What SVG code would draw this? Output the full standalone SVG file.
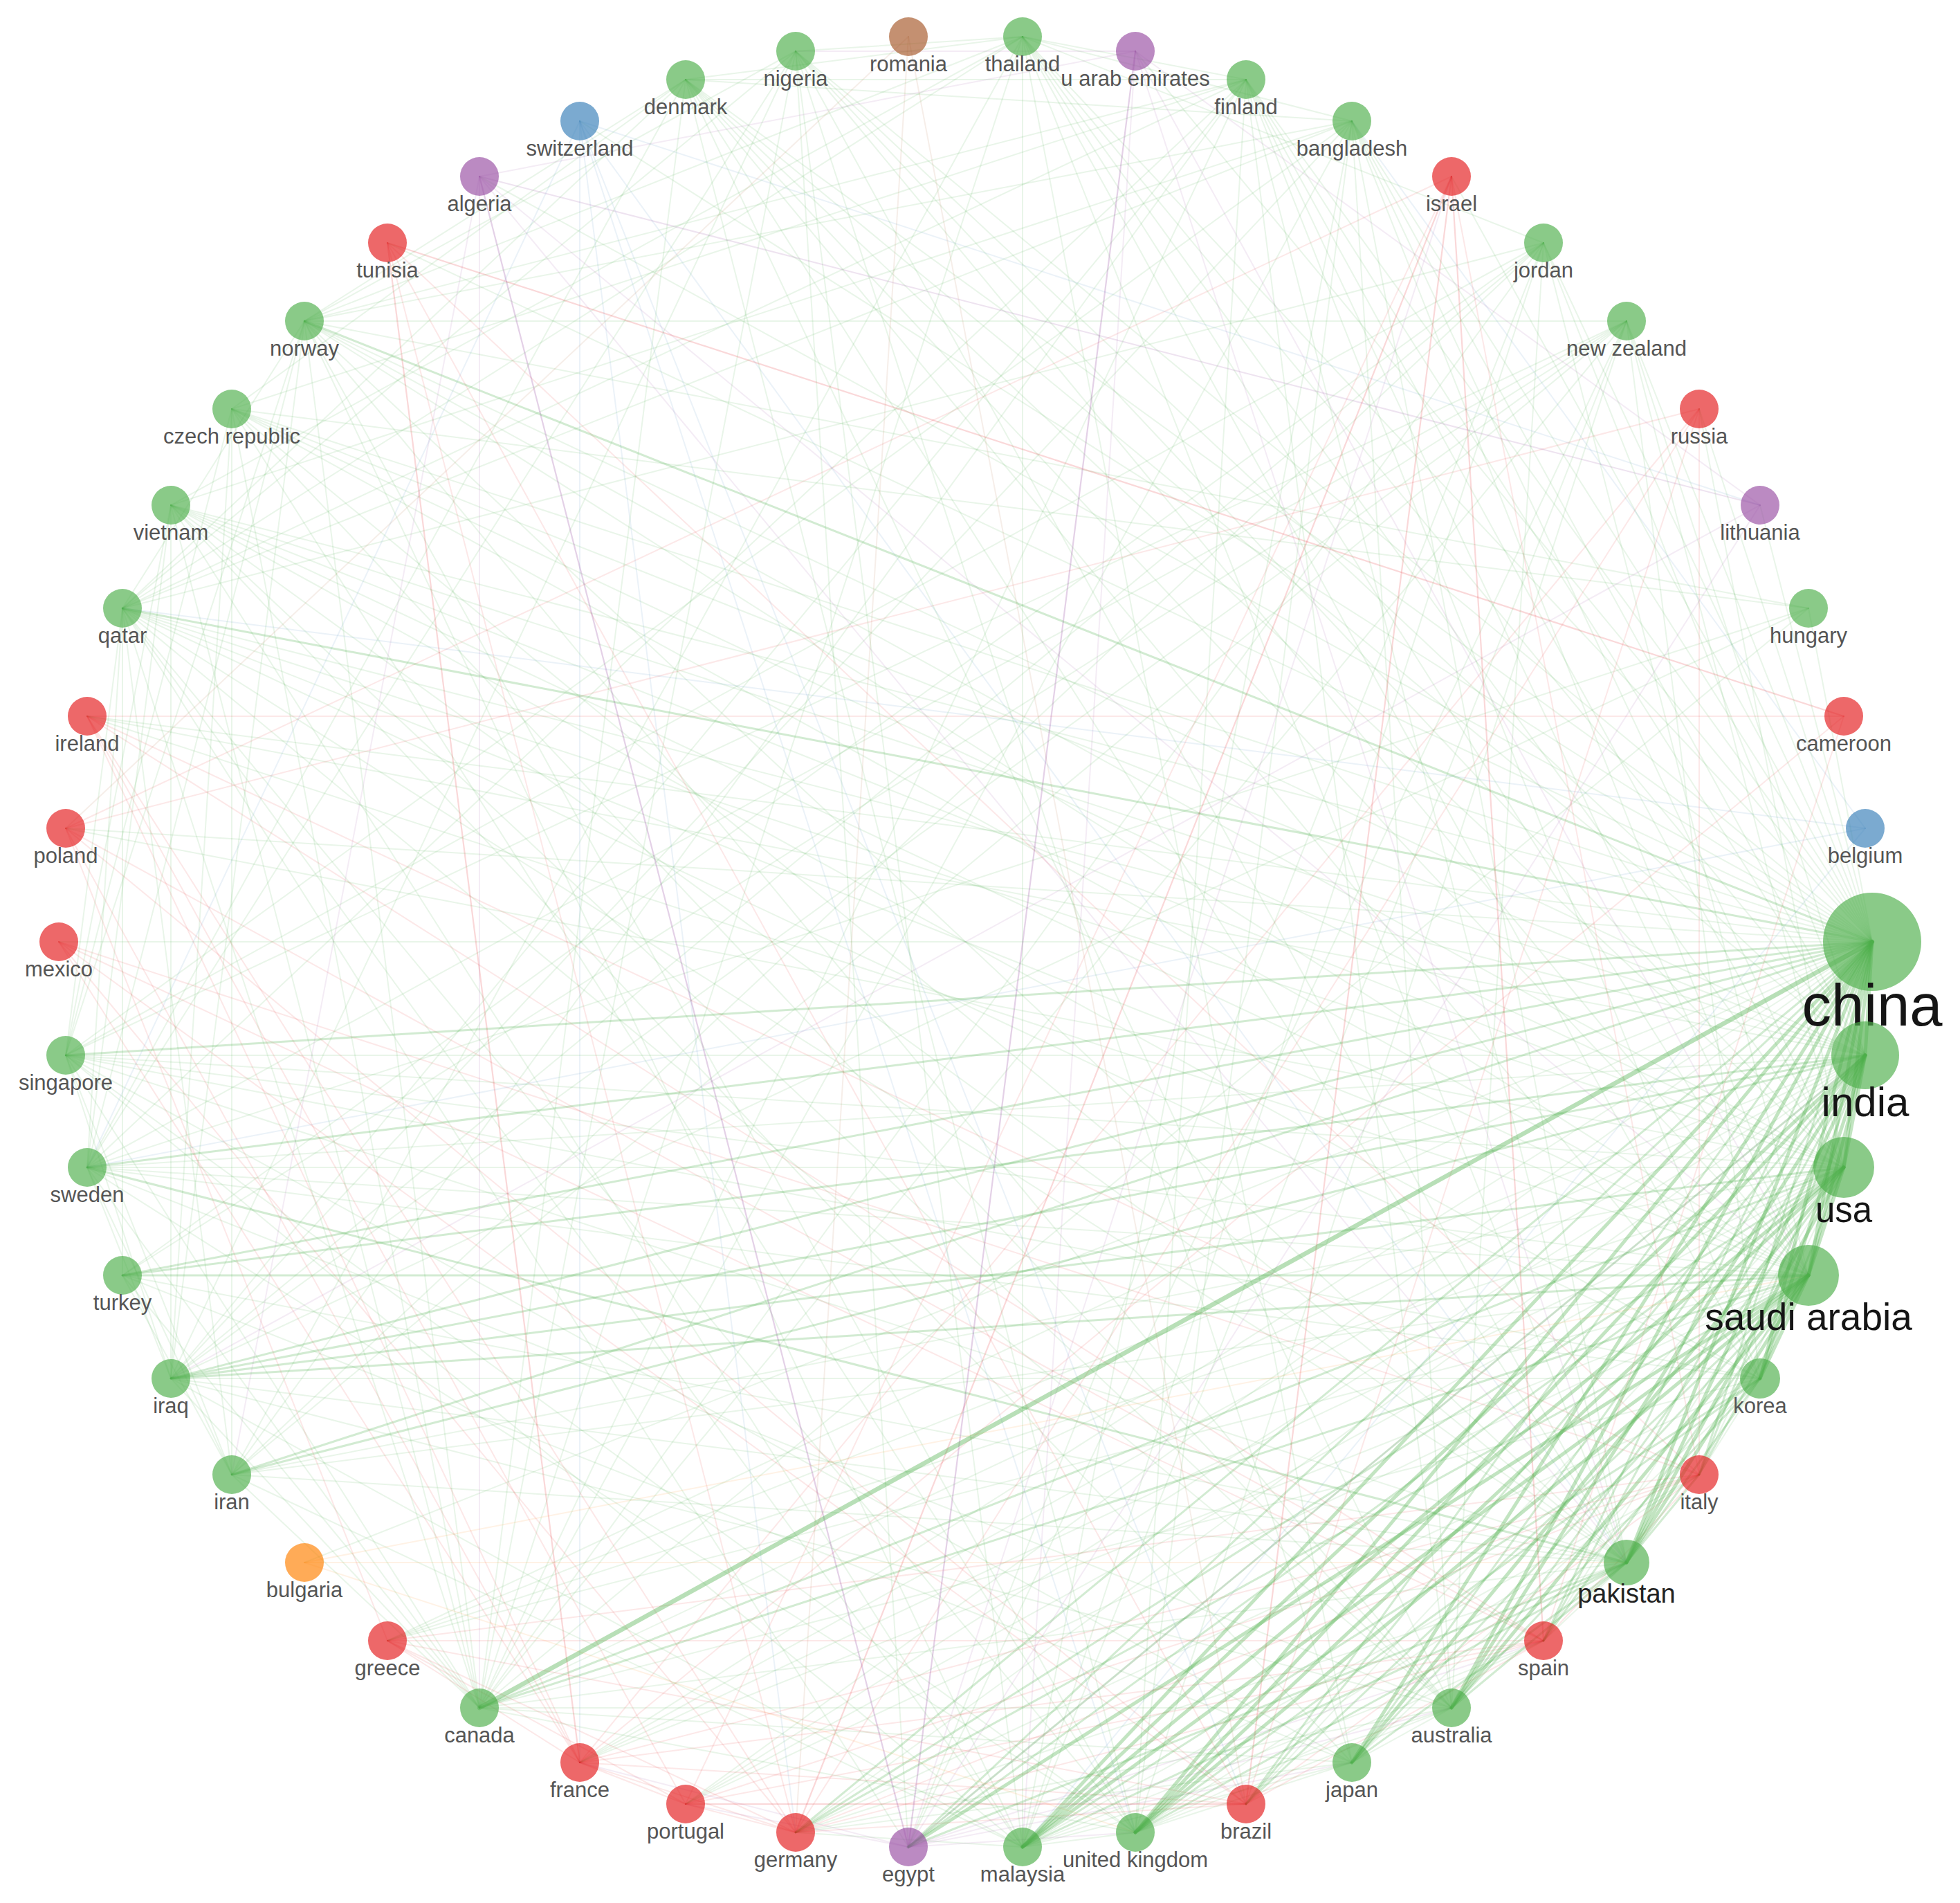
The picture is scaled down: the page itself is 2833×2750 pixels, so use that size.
<svg xmlns="http://www.w3.org/2000/svg" width="2833" height="2750" viewBox="0 0 2833 2750">
<style>
.e path{fill:none;stroke-linecap:round}
.g1 path{stroke:#4daf4a;stroke-width:2;stroke-opacity:.12}
.g2 path{stroke:#4daf4a;stroke-width:3;stroke-opacity:.25}
.g3 path{stroke:#4daf4a;stroke-width:5;stroke-opacity:.34}
.g4 path{stroke:#4daf4a;stroke-width:6.5;stroke-opacity:.4}
.r1 path{stroke:#e41a1c;stroke-width:2;stroke-opacity:.1}
.r2 path{stroke:#e41a1c;stroke-width:2.2;stroke-opacity:.17}
.p1 path{stroke:#984ea3;stroke-width:2;stroke-opacity:.11}
.p2 path{stroke:#984ea3;stroke-width:2.2;stroke-opacity:.26}
.p3 path{stroke:#984ea3;stroke-width:2;stroke-opacity:.16}
.b1 path{stroke:#377eb8;stroke-width:2;stroke-opacity:.1}
.o1 path{stroke:#ff7f00;stroke-width:2;stroke-opacity:.1}
.n1 path{stroke:#a65628;stroke-width:2;stroke-opacity:.1}
.node circle{fill-opacity:.66}
.gr circle{fill:#4daf4a}.rd circle{fill:#e41a1c}.pu circle{fill:#984ea3}.bl circle{fill:#377eb8}.or circle{fill:#ff7f00}.br circle{fill:#a65628}
.node text{font-family:"Liberation Sans",Arial,sans-serif;font-size:31px;fill:#555;text-anchor:middle}
.node text.big{fill:#151515}
</style>
<rect width="2833" height="2750" fill="#fff"/>
<g id="connectors" class="e">
<g class="g1">
<path d="M2706 1361L2614 879"/><path d="M2706 1361L2544 730"/><path d="M2706 1361L2456 591"/><path d="M2706 1361L2351 464"/><path d="M2706 1361L2231 351"/><path d="M2706 1361L2098 255"/><path d="M2706 1361L1801 115"/><path d="M2706 1361L1641 74"/><path d="M2706 1361L1478 53"/><path d="M2706 1361L1150 74"/><path d="M2706 1361L991 115"/><path d="M2706 1361L838 175"/><path d="M2706 1361L693 255"/><path d="M2706 1361L560 351"/><path d="M2706 1361L335 591"/><path d="M2706 1361L247 730"/><path d="M2706 1361L126 1035"/><path d="M2706 1361L95 1197"/><path d="M2706 1361L85 1361"/><path d="M2706 1361L560 2371"/><path d="M2706 1361L838 2547"/><path d="M2706 1361L991 2607"/><path d="M2706 1361L440 2258"/><path d="M2706 1361L1954 175"/>
<path d="M2696 1525L2351 464"/><path d="M2696 1525L2231 351"/><path d="M2696 1525L1954 175"/><path d="M2696 1525L1801 115"/><path d="M2696 1525L1478 53"/><path d="M2696 1525L1150 74"/><path d="M2696 1525L991 115"/><path d="M2696 1525L440 464"/><path d="M2696 1525L335 591"/><path d="M2696 1525L247 730"/><path d="M2696 1525L177 879"/><path d="M2696 1525L126 1035"/><path d="M2696 1525L95 1525"/><path d="M2696 1525L126 1687"/><path d="M2696 1525L560 2371"/><path d="M2696 1525L693 2468"/><path d="M2696 1525L838 2547"/><path d="M2696 1525L991 2607"/><path d="M2696 1525L1150 2648"/>
<path d="M2665 1687L2456 591"/><path d="M2665 1687L2351 464"/><path d="M2665 1687L1954 175"/><path d="M2665 1687L1801 115"/><path d="M2665 1687L1478 53"/><path d="M2665 1687L1150 74"/><path d="M2665 1687L991 115"/><path d="M2665 1687L440 464"/><path d="M2665 1687L335 591"/><path d="M2665 1687L247 730"/><path d="M2665 1687L177 879"/><path d="M2665 1687L95 1197"/><path d="M2665 1687L126 1687"/><path d="M2665 1687L95 1525"/><path d="M2665 1687L335 2131"/><path d="M2665 1687L560 2371"/><path d="M2665 1687L838 2547"/><path d="M2665 1687L991 2607"/><path d="M2665 1687L1801 2607"/><path d="M2665 1687L2456 2131"/><path d="M2665 1687L2231 2371"/>
<path d="M2614 1843L2231 351"/><path d="M2614 1843L1954 175"/><path d="M2614 1843L1801 115"/><path d="M2614 1843L1478 53"/><path d="M2614 1843L1150 74"/><path d="M2614 1843L991 115"/><path d="M2614 1843L440 464"/><path d="M2614 1843L335 591"/><path d="M2614 1843L247 730"/><path d="M2614 1843L177 879"/><path d="M2614 1843L126 1035"/><path d="M2614 1843L95 1525"/><path d="M2614 1843L126 1687"/><path d="M2614 1843L335 2131"/><path d="M2614 1843L838 2547"/><path d="M2614 1843L991 2607"/><path d="M2614 1843L560 2371"/>
<path d="M2351 2258L1954 175"/><path d="M2351 2258L1478 53"/><path d="M2351 2258L1150 74"/><path d="M2351 2258L991 115"/><path d="M2351 2258L1801 115"/><path d="M2351 2258L440 464"/><path d="M2351 2258L335 591"/><path d="M2351 2258L247 730"/><path d="M2351 2258L177 879"/><path d="M2351 2258L95 1525"/><path d="M2351 2258L247 1992"/><path d="M2351 2258L335 2131"/><path d="M2351 2258L177 1843"/><path d="M2351 2258L693 2468"/><path d="M2351 2258L1150 2648"/><path d="M2351 2258L2231 2371"/>
<path d="M2544 1992L1478 53"/><path d="M2544 1992L247 730"/><path d="M2544 1992L95 1525"/><path d="M2544 1992L247 1992"/><path d="M2544 1992L693 2468"/><path d="M2544 1992L1150 2648"/><path d="M2544 1992L1954 2547"/><path d="M2544 1992L2456 2131"/><path d="M2544 1992L2351 464"/><path d="M2544 1992L1801 115"/><path d="M2544 1992L991 115"/><path d="M2544 1992L177 879"/><path d="M2544 1992L126 1687"/>
<path d="M1478 2669L1954 175"/><path d="M1478 2669L1150 74"/><path d="M1478 2669L440 464"/><path d="M1478 2669L247 730"/><path d="M1478 2669L177 879"/><path d="M1478 2669L95 1525"/><path d="M1478 2669L247 1992"/><path d="M1478 2669L335 2131"/><path d="M1478 2669L1150 2648"/><path d="M1478 2669L1641 2648"/><path d="M1478 2669L1954 2547"/><path d="M1478 2669L2098 2468"/><path d="M1478 2669L2231 2371"/><path d="M1478 2669L2456 2131"/><path d="M1478 2669L2231 351"/><path d="M1478 2669L2351 464"/>
<path d="M1641 2648L1954 175"/><path d="M1641 2648L991 115"/><path d="M1641 2648L440 464"/><path d="M1641 2648L335 591"/><path d="M1641 2648L177 879"/><path d="M1641 2648L95 1525"/><path d="M1641 2648L126 1687"/><path d="M1641 2648L693 2468"/><path d="M1641 2648L1954 2547"/><path d="M1641 2648L2098 2468"/><path d="M1641 2648L2231 2371"/><path d="M1641 2648L2456 2131"/><path d="M1641 2648L1801 115"/><path d="M1641 2648L2351 464"/>
<path d="M2098 2468L1954 175"/><path d="M2098 2468L1801 115"/><path d="M2098 2468L991 115"/><path d="M2098 2468L440 464"/><path d="M2098 2468L335 591"/><path d="M2098 2468L247 730"/><path d="M2098 2468L177 879"/><path d="M2098 2468L126 1687"/><path d="M2098 2468L247 1992"/><path d="M2098 2468L693 2468"/><path d="M2098 2468L1150 2648"/><path d="M2098 2468L1954 2547"/><path d="M2098 2468L2231 351"/>
<path d="M1954 2547L1478 53"/><path d="M1954 2547L247 730"/><path d="M1954 2547L95 1525"/><path d="M1954 2547L693 2468"/><path d="M1954 2547L1150 2648"/><path d="M1954 2547L1150 74"/><path d="M1954 2547L177 1843"/>
<path d="M440 464L177 879"/><path d="M440 464L95 1525"/><path d="M440 464L126 1687"/><path d="M440 464L247 1992"/><path d="M440 464L693 2468"/><path d="M440 464L2351 464"/>
<path d="M335 591L247 1992"/><path d="M335 591L335 2131"/><path d="M335 591L95 1525"/><path d="M335 591L693 2468"/>
<path d="M247 730L247 1992"/><path d="M247 730L95 1525"/><path d="M247 730L126 1687"/><path d="M247 730L693 2468"/>
<path d="M177 879L95 1525"/><path d="M177 879L126 1687"/><path d="M177 879L177 1843"/><path d="M177 879L335 2131"/><path d="M177 879L693 2468"/><path d="M177 879L1313 2669"/>
<path d="M95 1525L247 1992"/><path d="M95 1525L335 2131"/><path d="M95 1525L693 2468"/>
<path d="M126 1687L247 1992"/><path d="M126 1687L335 2131"/><path d="M126 1687L693 2468"/>
<path d="M177 1843L335 2131"/><path d="M177 1843L693 2468"/><path d="M247 1992L693 2468"/><path d="M335 2131L693 2468"/>
<path d="M2351 464L95 1525"/><path d="M2351 464L126 1687"/><path d="M2351 464L247 1992"/><path d="M2351 464L335 2131"/><path d="M2351 464L693 2468"/><path d="M2351 464L1313 2669"/><path d="M2351 464L177 1843"/>
<path d="M2231 351L1478 53"/><path d="M2231 351L177 879"/><path d="M2231 351L95 1525"/><path d="M2231 351L177 1843"/><path d="M2231 351L247 1992"/><path d="M2231 351L335 2131"/><path d="M2231 351L693 2468"/><path d="M2231 351L1313 2669"/>
<path d="M1954 175L1478 53"/><path d="M1954 175L991 115"/><path d="M1954 175L440 464"/><path d="M1954 175L247 730"/><path d="M1954 175L177 879"/><path d="M1954 175L95 1525"/><path d="M1954 175L247 1992"/><path d="M1954 175L693 2468"/>
<path d="M1801 115L1478 53"/><path d="M1801 115L991 115"/><path d="M1801 115L440 464"/><path d="M1801 115L335 591"/><path d="M1801 115L177 879"/><path d="M1801 115L126 1687"/><path d="M1801 115L247 1992"/><path d="M1801 115L335 2131"/><path d="M1801 115L693 2468"/>
<path d="M1478 53L1150 74"/><path d="M1478 53L991 115"/><path d="M1478 53L440 464"/><path d="M1478 53L247 730"/><path d="M1478 53L177 879"/><path d="M1478 53L335 2131"/><path d="M1478 53L693 2468"/><path d="M1478 53L1478 2669"/>
<path d="M1150 74L440 464"/><path d="M1150 74L177 879"/><path d="M1150 74L126 1687"/><path d="M1150 74L247 1992"/><path d="M1150 74L693 2468"/><path d="M1150 74L1313 2669"/>
<path d="M991 115L440 464"/><path d="M991 115L335 591"/><path d="M991 115L177 879"/><path d="M991 115L126 1687"/><path d="M991 115L693 2468"/>
<path d="M2614 879L440 464"/><path d="M2614 879L335 591"/><path d="M2614 879L126 1687"/><path d="M2614 879L693 2468"/><path d="M2614 879L247 1992"/>
</g>
<g class="r1">
<path d="M2665 1035L838 2547"/><path d="M2665 1035L126 1035"/><path d="M2665 1035L2231 2371"/>
<path d="M2456 591L838 2547"/><path d="M2456 591L1801 2607"/><path d="M2456 591L1150 2648"/><path d="M2456 591L95 1197"/><path d="M2456 591L2456 2131"/>
<path d="M2098 255L2456 2131"/><path d="M2098 255L991 2607"/><path d="M2098 255L95 1197"/>
<path d="M560 351L1150 2648"/><path d="M560 351L2456 2131"/><path d="M560 351L1801 2607"/>
<path d="M126 1035L1150 2648"/><path d="M126 1035L838 2547"/><path d="M126 1035L991 2607"/><path d="M126 1035L2231 2371"/><path d="M126 1035L2456 2131"/>
<path d="M95 1197L560 2371"/><path d="M95 1197L2231 2371"/><path d="M95 1197L1801 2607"/><path d="M95 1197L838 2547"/>
<path d="M85 1361L2231 2371"/><path d="M85 1361L838 2547"/><path d="M85 1361L1801 2607"/><path d="M85 1361L1150 2648"/><path d="M85 1361L2456 2131"/>
<path d="M560 2371L838 2547"/><path d="M560 2371L991 2607"/><path d="M560 2371L1150 2648"/><path d="M560 2371L1801 2607"/><path d="M560 2371L2231 2371"/><path d="M560 2371L2456 2131"/>
<path d="M838 2547L991 2607"/><path d="M838 2547L1150 2648"/><path d="M838 2547L1801 2607"/><path d="M838 2547L2231 2371"/><path d="M838 2547L2456 2131"/>
<path d="M991 2607L1150 2648"/><path d="M991 2607L2231 2371"/><path d="M991 2607L2456 2131"/>
<path d="M1150 2648L1801 2607"/><path d="M1150 2648L2231 2371"/><path d="M1150 2648L2456 2131"/>
<path d="M1801 2607L2231 2371"/><path d="M1801 2607L2456 2131"/><path d="M2231 2371L2456 2131"/>
</g>
<g class="p1">
<path d="M1641 74L693 255"/><path d="M1641 74L1150 74"/><path d="M1641 74L1478 2669"/><path d="M1641 74L2614 1843"/><path d="M1641 74L2351 2258"/>
<path d="M693 255L335 2131"/><path d="M693 255L693 2468"/><path d="M693 255L2351 2258"/><path d="M693 255L2614 1843"/>
<path d="M2544 730L1641 74"/><path d="M2544 730L1313 2669"/><path d="M2544 730L247 1992"/>
<path d="M1313 2669L2696 1525"/><path d="M1313 2669L2098 2468"/><path d="M1313 2669L2231 2371"/><path d="M1313 2669L1641 2648"/><path d="M1313 2669L1954 2547"/><path d="M1313 2669L991 2607"/><path d="M1313 2669L838 2547"/><path d="M1313 2669L2098 255"/>
</g>
<g class="b1">
<path d="M2696 1197L1954 175"/><path d="M2696 1197L126 1687"/><path d="M2696 1197L177 879"/><path d="M2696 1197L1478 2669"/>
<path d="M838 175L1150 2648"/><path d="M838 175L1801 2607"/><path d="M838 175L838 2547"/><path d="M838 175L1641 2648"/><path d="M838 175L126 1687"/><path d="M838 175L2351 2258"/><path d="M838 175L2544 730"/>
</g>
<g class="o1"><path d="M440 2258L1641 2648"/><path d="M440 2258L2351 2258"/><path d="M440 2258L2614 1843"/></g>
<g class="n1"><path d="M1313 53L1150 2648"/><path d="M1313 53L1801 2607"/><path d="M1313 53L95 1197"/></g>
<g class="r2">
<path d="M560 351L838 2547"/><path d="M560 351L2665 1035"/><path d="M991 2607L1801 2607"/><path d="M2098 255L1150 2648"/><path d="M2098 255L1801 2607"/><path d="M2098 255L2231 2371"/>
</g>
<g class="p2">
<path d="M1641 74L1313 2669"/><path d="M693 255L1313 2669"/>
</g>
<g class="p3"><path d="M693 255L2544 730"/></g>
<g class="g2">
<path d="M2706 1361L440 464"/><path d="M2706 1361L95 1525"/><path d="M2706 1361L126 1687"/><path d="M2706 1361L247 1992"/><path d="M2706 1361L335 2131"/><path d="M2706 1361L177 1843"/><path d="M2706 1361L177 879"/><path d="M2706 1361L1313 2669"/><path d="M2706 1361L2231 2371"/><path d="M2706 1361L2456 2131"/><path d="M2706 1361L1801 2607"/><path d="M2706 1361L1150 2648"/>
<path d="M126 1687L2351 2258"/><path d="M247 1992L2696 1525"/><path d="M247 1992L2665 1687"/><path d="M247 1992L2614 1843"/><path d="M335 2131L2696 1525"/><path d="M177 1843L2614 1843"/><path d="M177 1843L2696 1525"/>
<path d="M693 2468L2614 1843"/><path d="M693 2468L2665 1687"/><path d="M1641 2648L2351 2258"/><path d="M1478 2669L2351 2258"/><path d="M1478 2669L2544 1992"/><path d="M1954 2547L2696 1525"/><path d="M1954 2547L2614 1843"/><path d="M2098 2468L2665 1687"/><path d="M2544 1992L2665 1687"/><path d="M2544 1992L2351 2258"/><path d="M2456 2131L2614 1843"/><path d="M1313 2669L2696 1525"/><path d="M2231 2371L2614 1843"/><path d="M1801 2607L2614 1843"/><path d="M1150 2648L2614 1843"/><path d="M1150 2648L2665 1687"/><path d="M1313 2669L2665 1687"/><path d="M2098 2468L2351 2258"/><path d="M2456 2131L2351 2258"/><path d="M1641 2648L2544 1992"/><path d="M2098 2468L2544 1992"/><path d="M2231 2371L2696 1525"/><path d="M1801 2607L2696 1525"/><path d="M2456 2131L2696 1525"/><path d="M2351 2258L1313 2669"/><path d="M1954 2547L2351 2258"/>
</g>
<g class="g3">
<path d="M2706 1361L2351 2258"/><path d="M2706 1361L1478 2669"/><path d="M2706 1361L1641 2648"/><path d="M2706 1361L1954 2547"/><path d="M2706 1361L2098 2468"/><path d="M2706 1361L2544 1992"/><path d="M2706 1361L2614 1843"/><path d="M2706 1361L2665 1687"/><path d="M2706 1361L2696 1525"/>
<path d="M2696 1525L2351 2258"/><path d="M2696 1525L1478 2669"/><path d="M2696 1525L1641 2648"/><path d="M2696 1525L2544 1992"/><path d="M2696 1525L2098 2468"/><path d="M2696 1525L2614 1843"/><path d="M2696 1525L2665 1687"/>
<path d="M2665 1687L2351 2258"/><path d="M2665 1687L1641 2648"/><path d="M2665 1687L1478 2669"/><path d="M2665 1687L1954 2547"/><path d="M2665 1687L2614 1843"/>
<path d="M2614 1843L2351 2258"/><path d="M2614 1843L1478 2669"/><path d="M2614 1843L1313 2669"/><path d="M2614 1843L2544 1992"/><path d="M2614 1843L2098 2468"/><path d="M2614 1843L1641 2648"/>
</g>
<g class="g4"><path d="M693 2468L2706 1361"/></g>
</g>
<g id="node-china" class="node gr"><circle cx="2706" cy="1361" r="71"/><text class="big" x="2706" y="1482" style="font-size:85px">china</text></g>
<g id="node-india" class="node gr"><circle cx="2696" cy="1525" r="49"/><text class="big" x="2696" y="1613" style="font-size:60px">india</text></g>
<g id="node-usa" class="node gr"><circle cx="2665" cy="1687" r="44"/><text class="big" x="2665" y="1766" style="font-size:51px">usa</text></g>
<g id="node-saudi-arabia" class="node gr"><circle cx="2614" cy="1843" r="44"/><text class="big" x="2614" y="1922" style="font-size:55px">saudi arabia</text></g>
<g id="node-pakistan" class="node gr"><circle cx="2351" cy="2258" r="33"/><text class="big" x="2351" y="2316" style="font-size:38px;fill:#222">pakistan</text></g>
<g id="node-belgium" class="node bl"><circle cx="2696" cy="1197" r="28"/><text x="2696" y="1247">belgium</text></g>
<g id="node-cameroon" class="node rd"><circle cx="2665" cy="1035" r="28"/><text x="2665" y="1085">cameroon</text></g>
<g id="node-hungary" class="node gr"><circle cx="2614" cy="879" r="28"/><text x="2614" y="929">hungary</text></g>
<g id="node-lithuania" class="node pu"><circle cx="2544" cy="730" r="28"/><text x="2544" y="780">lithuania</text></g>
<g id="node-russia" class="node rd"><circle cx="2456" cy="591" r="28"/><text x="2456" y="641">russia</text></g>
<g id="node-new-zealand" class="node gr"><circle cx="2351" cy="464" r="28"/><text x="2351" y="514">new zealand</text></g>
<g id="node-jordan" class="node gr"><circle cx="2231" cy="351" r="28"/><text x="2231" y="401">jordan</text></g>
<g id="node-israel" class="node rd"><circle cx="2098" cy="255" r="28"/><text x="2098" y="305">israel</text></g>
<g id="node-bangladesh" class="node gr"><circle cx="1954" cy="175" r="28"/><text x="1954" y="225">bangladesh</text></g>
<g id="node-finland" class="node gr"><circle cx="1801" cy="115" r="28"/><text x="1801" y="165">finland</text></g>
<g id="node-u-arab-emirates" class="node pu"><circle cx="1641" cy="74" r="28"/><text x="1641" y="124">u arab emirates</text></g>
<g id="node-thailand" class="node gr"><circle cx="1478" cy="53" r="28"/><text x="1478" y="103">thailand</text></g>
<g id="node-romania" class="node br"><circle cx="1313" cy="53" r="28"/><text x="1313" y="103">romania</text></g>
<g id="node-nigeria" class="node gr"><circle cx="1150" cy="74" r="28"/><text x="1150" y="124">nigeria</text></g>
<g id="node-denmark" class="node gr"><circle cx="991" cy="115" r="28"/><text x="991" y="165">denmark</text></g>
<g id="node-switzerland" class="node bl"><circle cx="838" cy="175" r="28"/><text x="838" y="225">switzerland</text></g>
<g id="node-algeria" class="node pu"><circle cx="693" cy="255" r="28"/><text x="693" y="305">algeria</text></g>
<g id="node-tunisia" class="node rd"><circle cx="560" cy="351" r="28"/><text x="560" y="401">tunisia</text></g>
<g id="node-norway" class="node gr"><circle cx="440" cy="464" r="28"/><text x="440" y="514">norway</text></g>
<g id="node-czech-republic" class="node gr"><circle cx="335" cy="591" r="28"/><text x="335" y="641">czech republic</text></g>
<g id="node-vietnam" class="node gr"><circle cx="247" cy="730" r="28"/><text x="247" y="780">vietnam</text></g>
<g id="node-qatar" class="node gr"><circle cx="177" cy="879" r="28"/><text x="177" y="929">qatar</text></g>
<g id="node-ireland" class="node rd"><circle cx="126" cy="1035" r="28"/><text x="126" y="1085">ireland</text></g>
<g id="node-poland" class="node rd"><circle cx="95" cy="1197" r="28"/><text x="95" y="1247">poland</text></g>
<g id="node-mexico" class="node rd"><circle cx="85" cy="1361" r="28"/><text x="85" y="1411">mexico</text></g>
<g id="node-singapore" class="node gr"><circle cx="95" cy="1525" r="28"/><text x="95" y="1575">singapore</text></g>
<g id="node-sweden" class="node gr"><circle cx="126" cy="1687" r="28"/><text x="126" y="1737">sweden</text></g>
<g id="node-turkey" class="node gr"><circle cx="177" cy="1843" r="28"/><text x="177" y="1893">turkey</text></g>
<g id="node-iraq" class="node gr"><circle cx="247" cy="1992" r="28"/><text x="247" y="2042">iraq</text></g>
<g id="node-iran" class="node gr"><circle cx="335" cy="2131" r="28"/><text x="335" y="2181">iran</text></g>
<g id="node-bulgaria" class="node or"><circle cx="440" cy="2258" r="28"/><text x="440" y="2308">bulgaria</text></g>
<g id="node-greece" class="node rd"><circle cx="560" cy="2371" r="28"/><text x="560" y="2421">greece</text></g>
<g id="node-canada" class="node gr"><circle cx="693" cy="2468" r="28"/><text x="693" y="2518">canada</text></g>
<g id="node-france" class="node rd"><circle cx="838" cy="2547" r="28"/><text x="838" y="2597">france</text></g>
<g id="node-portugal" class="node rd"><circle cx="991" cy="2607" r="28"/><text x="991" y="2657">portugal</text></g>
<g id="node-germany" class="node rd"><circle cx="1150" cy="2648" r="28"/><text x="1150" y="2698">germany</text></g>
<g id="node-egypt" class="node pu"><circle cx="1313" cy="2669" r="28"/><text x="1313" y="2719">egypt</text></g>
<g id="node-malaysia" class="node gr"><circle cx="1478" cy="2669" r="28"/><text x="1478" y="2719">malaysia</text></g>
<g id="node-united-kingdom" class="node gr"><circle cx="1641" cy="2648" r="28"/><text x="1641" y="2698">united kingdom</text></g>
<g id="node-brazil" class="node rd"><circle cx="1801" cy="2607" r="28"/><text x="1801" y="2657">brazil</text></g>
<g id="node-japan" class="node gr"><circle cx="1954" cy="2547" r="28"/><text x="1954" y="2597">japan</text></g>
<g id="node-australia" class="node gr"><circle cx="2098" cy="2468" r="28"/><text x="2098" y="2518">australia</text></g>
<g id="node-spain" class="node rd"><circle cx="2231" cy="2371" r="28"/><text x="2231" y="2421">spain</text></g>
<g id="node-italy" class="node rd"><circle cx="2456" cy="2131" r="28"/><text x="2456" y="2181">italy</text></g>
<g id="node-korea" class="node gr"><circle cx="2544" cy="1992" r="29"/><text x="2544" y="2042">korea</text></g>
</svg>
